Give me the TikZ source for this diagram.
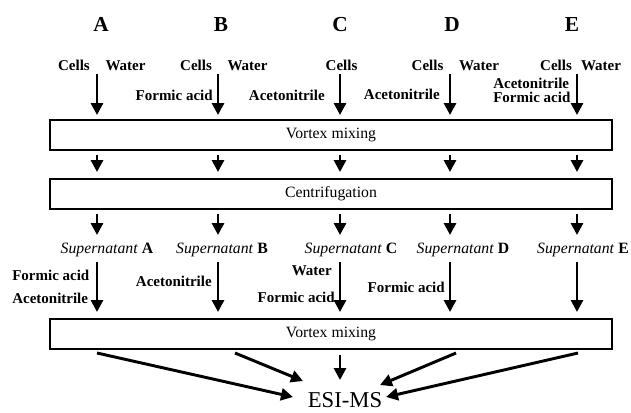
\documentclass[tikz,border=0pt]{standalone}
\usepackage{fontspec}
\setmainfont{Liberation Serif}
\usetikzlibrary{arrows.meta}
\begin{document}
\begin{tikzpicture}[x=0.75pt,y=-0.75pt,
  box/.style={draw, line width=1.5pt, minimum width=421.5pt, minimum height=22.5pt, inner sep=0pt, font=\fontsize{11.8}{14}\selectfont},
  lab/.style={font=\bfseries\fontsize{11.25}{13}\selectfont, inner sep=0pt},
  head/.style={font=\bfseries\fontsize{16}{19}\selectfont, inner sep=0pt, anchor=base},
  sup/.style={font=\fontsize{11.8}{14}\selectfont, inner sep=0pt, anchor=base},
  big/.style={font=\fontsize{17}{20}\selectfont, inner sep=0pt, anchor=base},
  arr/.style={line width=2.2pt, -{Triangle[width=9pt,length=9pt]}},
]
\useasboundingbox (0,0) rectangle (631,412);

% headers
\node[head] (hA) at (101,31) {A};
\node[head] (hB) at (221,31) {B};
\node[head] (hC) at (340,31) {C};
\node[head] (hD) at (452,31) {D};
\node[head] (hE) at (572,31) {E};

% first row of reagents
\node[lab, anchor=base] (cA) at (74,70) {Cells};
\node[lab, anchor=base] (wA) at (125.5,70) {Water};
\node[lab, anchor=base] (cB) at (196,70) {Cells};
\node[lab, anchor=base] (wB) at (247.5,70) {Water};
\node[lab, anchor=base] (cC) at (341.5,70) {Cells};
\node[lab, anchor=base] (cD) at (427.5,70) {Cells};
\node[lab, anchor=base] (wD) at (479,70) {Water};
\node[lab, anchor=base] (cE) at (556,70) {Cells};
\node[lab, anchor=base] (wE) at (601,70) {Water};

\node[lab, anchor=base east] (fB) at (213,100) {Formic acid};
\node[lab, anchor=base east] (aC) at (325,100) {Acetonitrile};
\node[lab, anchor=base east] (aD) at (440,99) {Acetonitrile};
\node[lab, anchor=base west] (aE) at (493,88) {Acetonitrile};
\node[lab, anchor=base west] (fE) at (493,102) {Formic acid};

% boxes
\node[box] (v1) at (331,135) {Vortex mixing};
\node[box] (cf) at (331,194) {Centrifugation};
\node[box] (v2) at (331,334) {Vortex mixing};

% supernatants
\node[sup] (sA) at (107,253) {\textit{Supernatant} \textbf{A}};
\node[sup] (sB) at (222,253) {\textit{Supernatant} \textbf{B}};
\node[sup] (sC) at (351,253) {\textit{Supernatant} \textbf{C}};
\node[sup] (sD) at (463,253) {\textit{Supernatant} \textbf{D}};
\node[sup] (sE) at (583,253) {\textit{Supernatant} \textbf{E}};

% second reagents
\node[lab, anchor=base west] (f2A) at (12,280) {Formic acid};
\node[lab, anchor=base west] (a2A) at (12,303) {Acetonitrile};
\node[lab, anchor=base east] (a2B) at (212,286) {Acetonitrile};
\node[lab, anchor=base east] (w2C) at (332,275) {Water};
\node[lab, anchor=base east] (f2C) at (335,302) {Formic acid};
\node[lab, anchor=base east] (f2D) at (445,292) {Formic acid};

% ESI-MS
\node[big] (esi) at (345,407) {ESI-MS};

% column arrows
\foreach \n/\x in {A/97,B/218,C/340,D/450,E/577} {
  \coordinate (t\n) at (\x,74);
  \coordinate (m\n) at (\x,155);
  \coordinate (k\n) at (\x,214);
  \coordinate (q\n) at (\x,235);
  \coordinate (s\n) at (\x,262);
  \draw[arr, shorten >=3pt] (t\n) -- (t\n |- v1.north);
  \draw[arr, shorten >=4.5pt] (m\n) -- (m\n |- cf.north);
  \draw[arr] (k\n) -- (q\n);
  \draw[arr, shorten >=4.5pt] (s\n) -- (s\n |- v2.north);
}

% converging arrows
\coordinate (b1) at (97,353);
\coordinate (b2) at (235,353);
\coordinate (b3) at (340,355);
\coordinate (b4) at (456,353);
\coordinate (b5) at (578,353);
\coordinate (e1) at (293,397);
\coordinate (e2) at (303,381);
\coordinate (e3) at (340,380);
\coordinate (e4) at (380,385);
\coordinate (e5) at (386,397);
\draw[arr] (b1) -- (e1);
\draw[arr] (b2) -- (e2);
\draw[arr] (b3) -- (e3);
\draw[arr] (b4) -- (e4);
\draw[arr] (b5) -- (e5);
\end{tikzpicture}
\end{document}
